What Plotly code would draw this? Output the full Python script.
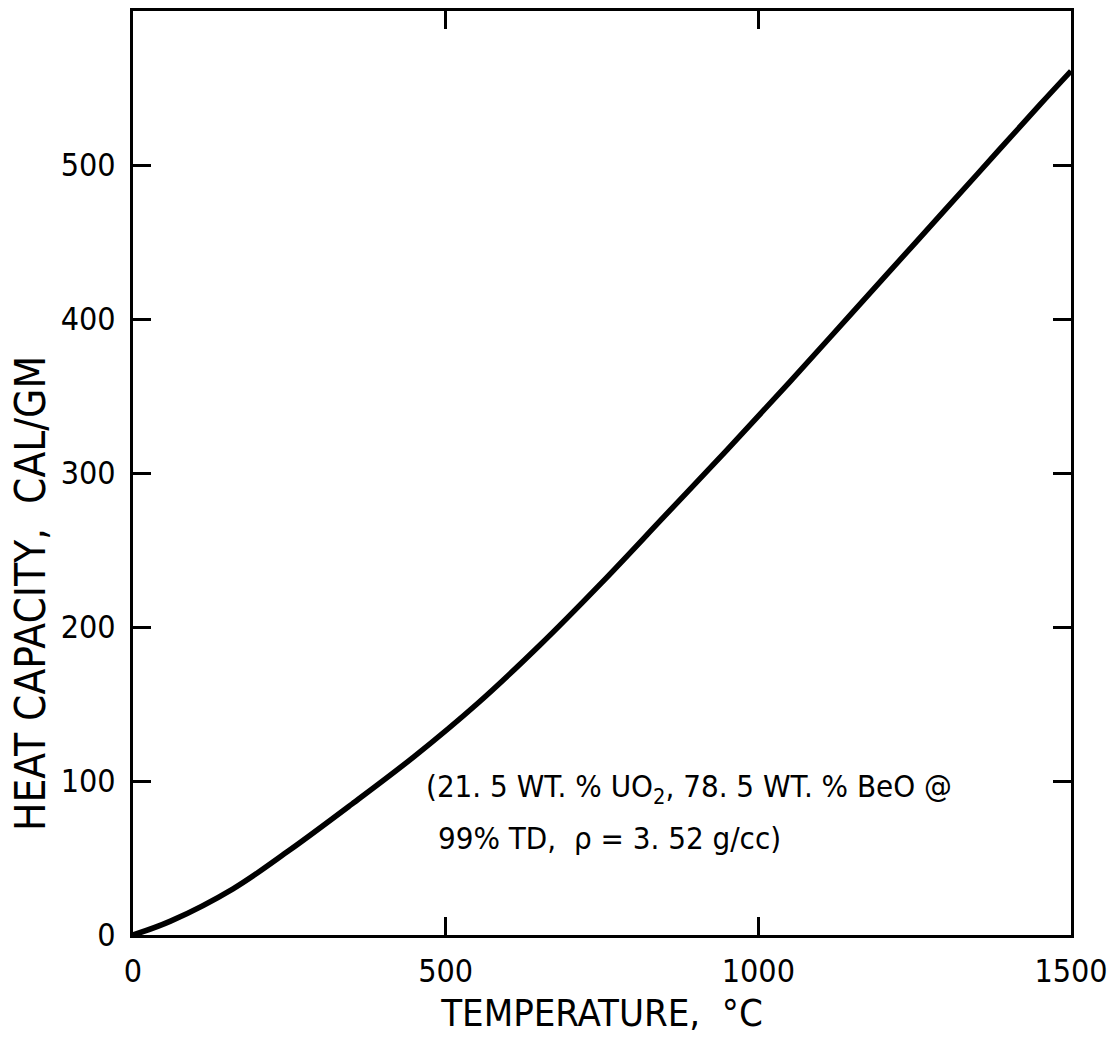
import plotly.graph_objects as go

# Heat capacity (cal/gm) vs temperature (deg C)
temperature = [0, 60, 160, 250, 350, 450, 550, 650, 750, 850, 950, 1050, 1150, 1250, 1350, 1450, 1500]
heat_capacity = [0, 9, 30, 55, 85, 116, 150, 188, 229, 272, 315, 359, 404, 449, 494, 539, 561]

x_ticks = [0, 500, 1000, 1500]
y_ticks = [0, 100, 200, 300, 400, 500]

x_title = "TEMPERATURE,  °C"
y_title = "HEAT CAPACITY,  CAL/GM"
note_line1 = "(21. 5 WT. % UO<sub>2</sub>, 78. 5 WT. % BeO @"
note_line2 = "99% TD,  ρ = 3. 52 g/cc)"

FONT = "DejaVu Sans Condensed, Liberation Sans Narrow, Arial Narrow, sans-serif"

fig = go.Figure()
fig.add_trace(go.Scatter(
    x=temperature, y=heat_capacity, mode="lines",
    line=dict(color="black", width=5.5, shape="spline", smoothing=1.0),
    showlegend=False, hoverinfo="skip",
))

axis_common = dict(
    showline=True, linecolor="black", linewidth=3, mirror="ticks",
    ticks="inside", ticklen=18, tickwidth=2.5, tickcolor="black",
    showgrid=False, zeroline=False,
    tickfont=dict(family=FONT, size=32, color="black"),
)

fig.update_xaxes(
    range=[0, 1500], tickvals=x_ticks, ticktext=[str(v) for v in x_ticks],
    title=dict(text=x_title, font=dict(family=FONT, size=38, color="black"), standoff=10),
    ticklabelstandoff=6,
    **axis_common,
)
fig.update_yaxes(
    range=[0, 600], tickvals=y_ticks, ticktext=[str(v) for v in y_ticks],
    ticklabelstandoff=8,
    **axis_common,
)

# y-axis title placed as a rotated annotation (sits lower than centre in the reference)
fig.add_annotation(x=-0.11, y=0.37, xref="paper", yref="paper", text=y_title, textangle=-90,
                   showarrow=False, xanchor="center", yanchor="middle",
                   font=dict(family=FONT, size=42, color="black"))

fig.add_annotation(x=465, y=95, xref="x", yref="y", text=note_line1, showarrow=False,
                   xanchor="left", yanchor="middle", font=dict(family=FONT, size=31, color="black"))
fig.add_annotation(x=484, y=63, xref="x", yref="y", text=note_line2, showarrow=False,
                   xanchor="left", yanchor="middle", font=dict(family=FONT, size=31, color="black"))

fig.update_layout(
    width=1117, height=1048,
    margin=dict(l=133, r=46, t=8, b=113),
    paper_bgcolor="white", plot_bgcolor="white",
)

fig.write_html("out.html")
